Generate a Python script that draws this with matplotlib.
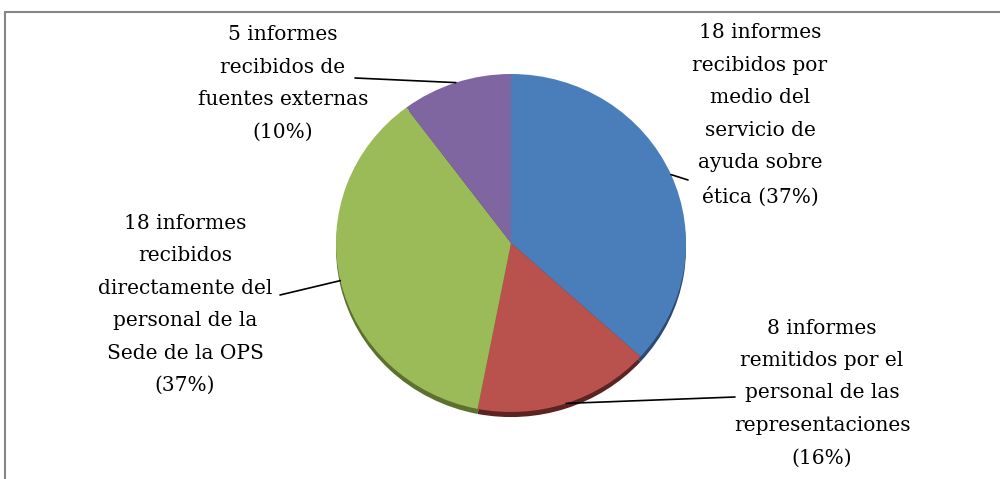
import matplotlib
matplotlib.use("Agg")
import matplotlib.pyplot as plt
import numpy as np
from matplotlib.patches import Rectangle

# datos del gráfico
labels = [
    "18 informes\nrecibidos por\nmedio del\nservicio de\nayuda sobre\nética (37%)",
    "8 informes\nremitidos por el\npersonal de las\nrepresentaciones\n(16%)",
    "18 informes\nrecibidos\ndirectamente del\npersonal de la\nSede de la OPS\n(37%)",
    "5 informes\nrecibidos de\nfuentes externas\n(10%)",
]
values = [18, 8, 18, 5]
colors = ["#4a7ebb", "#b9514c", "#9bbb59", "#8066a0"]
shadow_colors = ["#2c4a70", "#5a2423", "#5d7030", "#4a3a5e"]

# posiciones de texto (pixeles, origen arriba-izquierda) y fin del conector
text_pos = [(760, 115), (822, 393), (185, 304.5), (283, 83.5)]
line_end = [(688, 180), (735, 397), (280, 295), (355, 78)]

W, H = 1000, 479
fig = plt.figure(figsize=(W / 100, H / 100), dpi=100)

# marco gris
fig.patches.append(Rectangle((5 / W, -0.1), 1.2, 1 - 12 / H + 0.1, transform=fig.transFigure,
                             fill=False, edgecolor="#868686", linewidth=1.5))

cx, cy, rx, ry = 511, 243, 175, 169
ax = fig.add_axes([(cx - rx) / W, 1 - (cy + ry) / H, 2 * rx / W, 2 * ry / H])

# sombra / borde 3D
ax.pie(values, colors=shadow_colors, startangle=90, counterclock=False,
       center=(0, -0.03), radius=1.0, wedgeprops=dict(linewidth=0))
wedges, _ = ax.pie(values, colors=colors, startangle=90, counterclock=False,
                   radius=1.0, wedgeprops=dict(linewidth=0))
ax.set_aspect("auto")
ax.set_xlim(-1, 1)
ax.set_ylim(-1, 1)
ax.axis("off")

for w, lab, tp, le in zip(wedges, labels, text_pos, line_end):
    mid = np.deg2rad((w.theta1 + w.theta2) / 2)
    anchor = (np.cos(mid), np.sin(mid))
    ax.annotate("", xy=anchor, xycoords="data",
                xytext=(le[0] / W, 1 - le[1] / H), textcoords="figure fraction",
                arrowprops=dict(arrowstyle="-", color="black", lw=1.2,
                                shrinkA=0, shrinkB=0))
    fig.text(tp[0] / W, 1 - tp[1] / H, lab, ha="center", va="center",
             multialignment="center", fontsize=14.5, family="DejaVu Serif",
             linespacing=1.9, color="black")

fig.savefig("out.png", dpi=100)
